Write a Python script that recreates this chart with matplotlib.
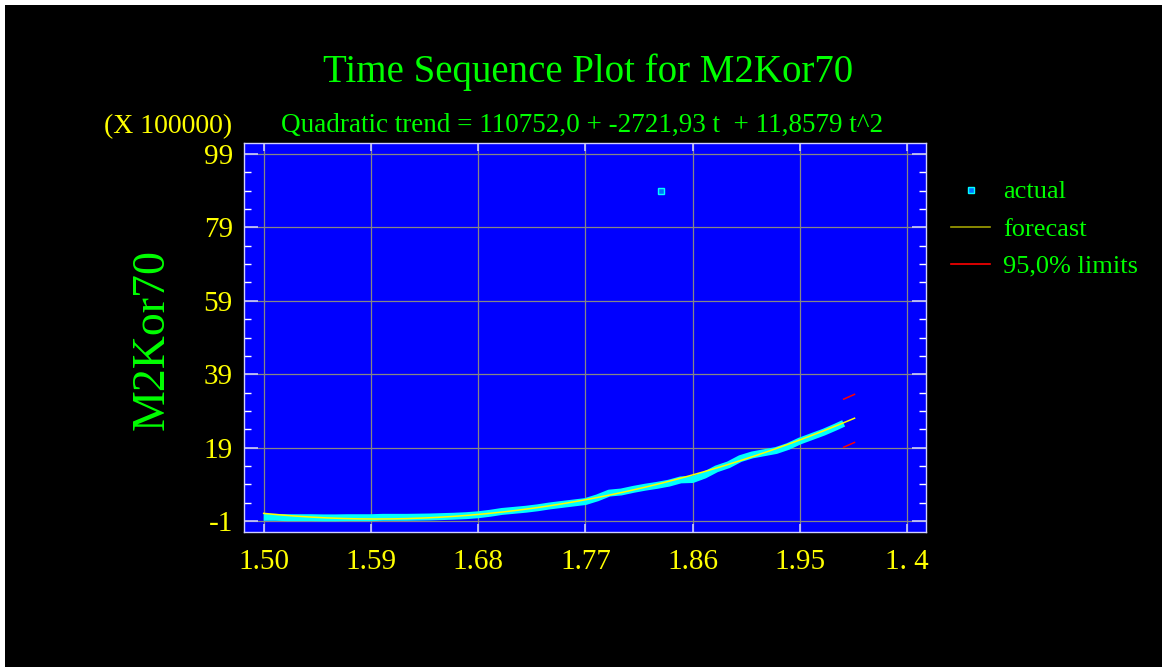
import numpy as np
import matplotlib
matplotlib.use("Agg")
import matplotlib.pyplot as plt
from matplotlib.patches import Rectangle
from matplotlib.lines import Line2D
from matplotlib.ticker import FixedLocator

# ---- data (values in units of 100000) ----
actual_years = [1950, 1951, 1952, 1953, 1954, 1955, 1956, 1957, 1958, 1959,
                1960, 1961, 1962, 1963, 1964, 1965, 1966, 1967, 1968, 1969,
                1970, 1971, 1972, 1973, 1974, 1975, 1976, 1977, 1978, 1979,
                1980, 1981, 1982, 1983, 1984, 1985, 1986, 1987, 1988, 1989,
                1990, 1991, 1992, 1993, 1994, 1995, 1996, 1997, 1998, 1998.67]
actual_values = [0.0, 0.0, -0.1, -0.1, -0.1, -0.15, -0.15, -0.1, -0.1, -0.1,
                 0.0, 0.0, 0.0, 0.05, 0.1, 0.2, 0.3, 0.45, 0.7, 1.1,
                 1.6, 1.9, 2.2, 2.6, 3.1, 3.5, 3.9, 4.3, 5.3, 6.6,
                 6.9, 7.6, 8.2, 8.7, 9.3, 10.2, 10.3, 11.5, 13.2, 14.3,
                 16.0, 17.0, 17.6, 18.2, 19.3, 20.8, 22.0, 23.2, 24.6, 25.6]
outlier_year = [1983.33]
outlier_value = [88.9]

# quadratic trend coefficients (t = month index starting at 1)
trend_coef = [110752.0, -2721.93, 11.8579]
n_obs = 584
n_forecast = 12
scale = 100000.0

limit_years = [1998.67, 1999.58]
upper_limit = [32.2, 33.5]
lower_limit = [19.1, 20.4]

x_ticks = [1950, 1959, 1968, 1977, 1986, 1995, 2004]
x_ticklabels = ["1.50", "1.59", "1.68", "1.77", "1.86", "1.95", "1. 4"]
y_ticks = [-1, 19, 39, 59, 79, 99]

# ---- figure ----
W, H = 1162, 669
plt.rcParams['font.family'] = ['Liberation Serif', 'DejaVu Serif']
fig = plt.figure(figsize=(W / 100, H / 100), dpi=100, facecolor='white')
fig.patches.append(Rectangle((5 / W, 2 / H), (W - 5) / W, (667 - 5) / H,
                             transform=fig.transFigure, facecolor='black',
                             edgecolor='none', zorder=-10))

ax = fig.add_axes([244 / W, (H - 532) / H, 682 / W, 389 / H])
ax.set_zorder(2)
ax.set_facecolor('#0000ff')

t = np.arange(1, n_obs + n_forecast + 1)
trend = (trend_coef[0] + trend_coef[1] * t + trend_coef[2] * t ** 2) / scale
trend_years = 1950 + (t - 1) / 12.0

ax.plot(actual_years, actual_values, color='#00ffff', lw=5.0,
        solid_capstyle='butt', solid_joinstyle='round', zorder=3)
ax.plot(outlier_year, outlier_value, linestyle='none', marker='s', ms=4.2,
        mfc='#0070ff', mec='#00ffff', mew=1.0, zorder=3)
ax.plot(trend_years, trend, color='#ffff00', lw=1.1, zorder=4)
ax.plot(limit_years, upper_limit, color='#ff0000', lw=1.1, zorder=4)
ax.plot(limit_years, lower_limit, color='#ff0000', lw=1.1, zorder=4)

ax.set_xlim(1948.35, 2005.58)
ax.set_ylim(-4.0, 102.0)

ax.xaxis.set_major_locator(FixedLocator(x_ticks))
ax.set_xticklabels(x_ticklabels)
ax.yaxis.set_major_locator(FixedLocator(y_ticks))
ax.yaxis.set_minor_locator(FixedLocator([v for v in range(-1, 102, 5) if v not in y_ticks]))
ax.set_yticklabels([str(v) for v in y_ticks])

ax.grid(True, which='major', color='#868686', lw=0.9)
ax.set_axisbelow(True)

for s in ax.spines.values():
    s.set_color('#d0d0ff')
    s.set_linewidth(1.0)

ax.tick_params(axis='both', which='major', direction='in', colors='#c8c8ff',
               labelcolor='#ffff00', labelsize=21, width=1.2)
ax.tick_params(axis='y', which='major', length=10, pad=8, left=True, right=True)
ax.tick_params(axis='y', which='minor', direction='in', length=5, width=1.0,
               color='white', left=True, right=True)
ax.tick_params(axis='x', which='major', length=6, pad=12, top=True, bottom=True)

# ---- titles and labels ----
fig.text(588 / W, (H - 82) / H, "Time Sequence Plot for M2Kor70",
         color='#00ff00', fontsize=28, ha='center', va='baseline')
fig.text(582 / W, (H - 132) / H,
         "Quadratic trend = 110752,0 + -2721,93 t  + 11,8579 t^2",
         color='#00ff00', fontsize=19.5, ha='center', va='baseline')
fig.text(232 / W, (H - 133) / H, "(X 100000)", color='#ffff00',
         fontsize=20, ha='right', va='baseline')
fig.text(152 / W, (H - 340) / H, "M2Kor70", color='#00ff00', fontsize=33,
         rotation=90, ha='center', va='center')

# ---- legend ----
leg_rows = [190, 227, 264]
leg_text = ["actual", "forecast", "95,0% limits"]
fig.add_artist(Line2D([971 / W], [(H - leg_rows[0]) / H], transform=fig.transFigure,
                      linestyle='none', marker='s', ms=4.2, mfc='#0070ff',
                      mec='#00ffff', mew=1.0))
fig.add_artist(Line2D([951 / W, 990 / W], [(H - leg_rows[1]) / H] * 2,
                      transform=fig.transFigure, color='#a0a000', lw=1.2))
fig.add_artist(Line2D([951 / W, 990 / W], [(H - leg_rows[2]) / H] * 2,
                      transform=fig.transFigure, color='#ff0000', lw=1.2))
for y, s in zip(leg_rows, leg_text):
    fig.text(1003 / W, (H - y) / H, s, color='#00ff00', fontsize=19,
             ha='left', va='center_baseline')

fig.savefig("out.png", dpi=100, facecolor=fig.get_facecolor())
